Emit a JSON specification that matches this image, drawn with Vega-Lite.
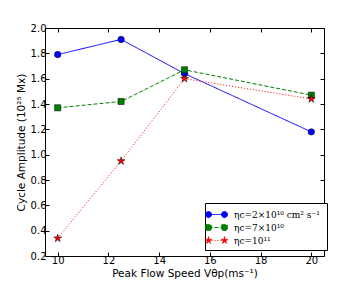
{
  "$schema": "https://vega.github.io/schema/vega-lite/v6.json",
  "width": 279,
  "height": 228,
  "autosize": {"type": "none"},
  "padding": {"left": 45, "top": 28, "right": 36, "bottom": 29},
  "background": "white",
  "config": {
    "view": {"stroke": "black", "strokeWidth": 1},
    "axis": {
      "grid": false,
      "domain": false,
      "tickColor": "black",
      "tickSize": -4,
      "labelFont": "DejaVu Sans",
      "labelFontSize": 10,
      "labelColor": "black",
      "titleFont": "DejaVu Sans",
      "titleFontSize": 10.5,
      "titleFontWeight": "normal",
      "titleColor": "black",
      "labelPadding": 3
    },
    "legend": {
      "orient": "none", "legendX": 160, "legendY": 175,
      "strokeColor": "black", "fillColor": "white", "padding": 4, "cornerRadius": 0,
      "symbolSize": 196, "symbolStrokeWidth": 1, "symbolOpacity": 1,
      "labelFont": "DejaVu Serif", "labelFontSize": 9, "labelColor": "black",
      "labelOffset": 10, "rowPadding": 0
    }
  },
  "data": {
    "values": [
      {"v": 10, "amp": 1.79, "s": "ηc=2×10¹⁰  cm² s⁻¹"},
      {"v": 12.5, "amp": 1.91, "s": "ηc=2×10¹⁰  cm² s⁻¹"},
      {"v": 15, "amp": 1.64, "s": "ηc=2×10¹⁰  cm² s⁻¹"},
      {"v": 20, "amp": 1.18, "s": "ηc=2×10¹⁰  cm² s⁻¹"},
      {"v": 10, "amp": 1.37, "s": "ηc=7×10¹⁰"},
      {"v": 12.5, "amp": 1.42, "s": "ηc=7×10¹⁰"},
      {"v": 15, "amp": 1.67, "s": "ηc=7×10¹⁰"},
      {"v": 20, "amp": 1.47, "s": "ηc=7×10¹⁰"},
      {"v": 10, "amp": 0.34, "s": "ηc=10¹¹"},
      {"v": 12.5, "amp": 0.95, "s": "ηc=10¹¹"},
      {"v": 15, "amp": 1.6, "s": "ηc=10¹¹"},
      {"v": 20, "amp": 1.44, "s": "ηc=10¹¹"}
    ]
  },
  "encoding": {
    "x": {"field": "v", "type": "quantitative", "axis": null},
    "y": {"field": "amp", "type": "quantitative", "axis": null},
    "color": {"field": "s", "type": "nominal",
              "scale": {"domain": ["ηc=2×10¹⁰  cm² s⁻¹", "ηc=7×10¹⁰", "ηc=10¹¹"], "range": ["#0000ff", "#008000", "#ff0000"]},
              "legend": {
                "title": null,
                "labelFont": "DejaVu Serif",
                "encode": {
                  "symbols": {
                    "update": {
                      "shape": {"signal": "datum.value == 'ηc=7×10¹⁰' ? 'M-1.14,0L1.14,0M-1.54,-0.4L-0.74,-0.4L-0.74,0.4L-1.54,0.4ZM0.74,-0.4L1.54,-0.4L1.54,0.4L0.74,0.4Z' : datum.value == 'ηc=10¹¹' ? 'M-1.14,0L1.14,0M-1.14,-0.57L-1.012,-0.176L-0.598,-0.176L-0.933,0.067L-0.805,0.461L-1.14,0.218L-1.475,0.461L-1.347,0.067L-1.682,-0.176L-1.268,-0.176ZM1.14,-0.57L1.268,-0.176L1.682,-0.176L1.347,0.067L1.475,0.461L1.14,0.218L0.805,0.461L0.933,0.067L0.598,-0.176L1.012,-0.176Z' : 'M-1.14,0L1.14,0M-1.57,0A0.43,0.43 0 1,0 -0.71,0A0.43,0.43 0 1,0 -1.57,0ZM0.71,0A0.43,0.43 0 1,0 1.57,0A0.43,0.43 0 1,0 0.71,0Z'"},
                      "fill": {"signal": "datum.value == 'ηc=7×10¹⁰' ? '#008000' : datum.value == 'ηc=10¹¹' ? '#ff0000' : '#0000ff'"},
                      "stroke": {"signal": "datum.value == 'ηc=7×10¹⁰' ? '#008000' : datum.value == 'ηc=10¹¹' ? '#ff0000' : '#0000ff'"},
                      "strokeDash": {"signal": "datum.value == 'ηc=7×10¹⁰' ? [3, 1.5] : datum.value == 'ηc=10¹¹' ? [1, 1.5] : [1, 0]"},
                      "opacity": {"value": 1},
                      "fillOpacity": {"value": 1},
                      "strokeOpacity": {"value": 1}
                    }
                  }
                }
              }}
  },
  "layer": [
    {
      "mark": {"type": "line", "strokeWidth": 1},
      "encoding": {
        "x": {"field": "v", "type": "quantitative", "scale": {"domain": [9.5, 20.5], "nice": false, "zero": false},
              "axis": {"orient": "bottom", "values": [10, 12, 14, 16, 18, 20], "title": "Peak Flow Speed Vθp(ms⁻¹)", "titlePadding": 3}},
        "y": {"field": "amp", "type": "quantitative", "scale": {"domain": [0.2, 2.0], "nice": false, "zero": false},
              "axis": {"orient": "left", "values": [0.2, 0.4, 0.6, 0.8, 1.0, 1.2, 1.4, 1.6, 1.8, 2.0], "format": ".1f", "title": "Cycle Amplitude (10²⁵ Mx)", "titlePadding": 4}},
        "strokeDash": {"field": "s", "type": "nominal",
                       "scale": {"domain": ["ηc=2×10¹⁰  cm² s⁻¹", "ηc=7×10¹⁰", "ηc=10¹¹"], "range": [[1, 0], [4, 2], [1, 2]]},
                       "legend": null}
      }
    },
    {
      "transform": [{"filter": "datum.s == 'ηc=2×10¹⁰  cm² s⁻¹'"}],
      "mark": {"type": "point", "shape": "circle", "size": 42, "filled": true, "opacity": 1, "stroke": "black", "strokeWidth": 0.5},
      "encoding": {
        "x": {"field": "v", "type": "quantitative", "axis": {"orient": "top", "values": [10, 12, 14, 16, 18, 20], "labels": false, "title": null}},
        "y": {"field": "amp", "type": "quantitative", "axis": {"orient": "right", "values": [0.2, 0.4, 0.6, 0.8, 1.0, 1.2, 1.4, 1.6, 1.8, 2.0], "labels": false, "title": null}}
      }
    },
    {
      "transform": [{"filter": "datum.s == 'ηc=7×10¹⁰'"}],
      "mark": {"type": "point", "shape": "square", "size": 38, "filled": true, "opacity": 1, "stroke": "black", "strokeWidth": 0.5}
    },
    {
      "transform": [{"filter": "datum.s == 'ηc=10¹¹'"}],
      "mark": {"type": "point", "shape": "M0,-1L0.225,-0.309L0.951,-0.309L0.363,0.118L0.588,0.809L0,0.382L-0.588,0.809L-0.363,0.118L-0.951,-0.309L-0.225,-0.309Z", "size": 70, "filled": true, "opacity": 1, "stroke": "black", "strokeWidth": 0.5}
    }
  ]
}
